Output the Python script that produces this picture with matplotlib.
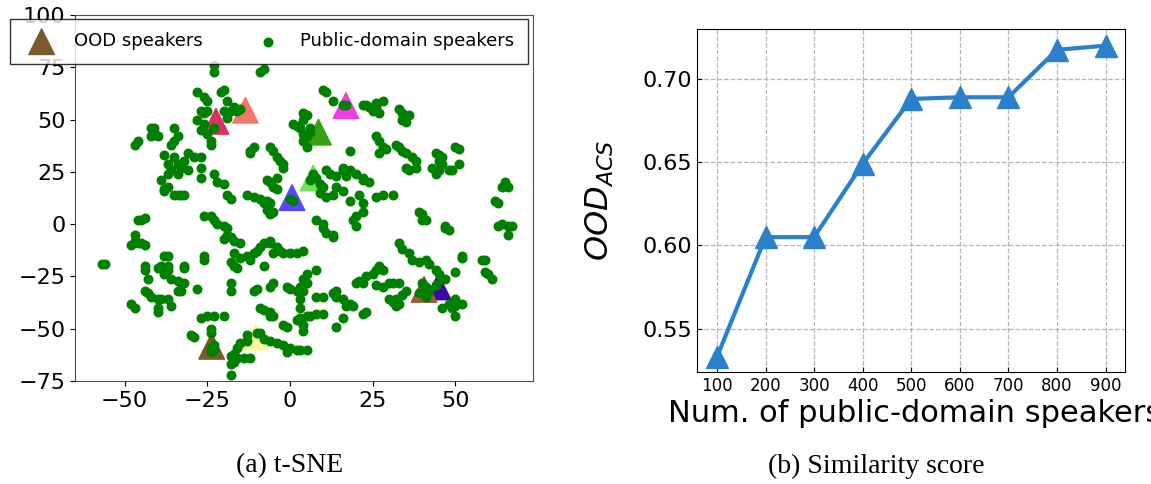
import matplotlib.pyplot as plt

# (a) t-SNE: OOD speakers (triangles)
ood_x = [-23.7, 44.8, 40.5, -22.4, -13.5, 16.9, 8.6, 7.0, 0.6, -10.4]
ood_y = [-58.4, -30.0, -31.2, 49.2, 54.5, 56.7, 44.0, 22.1, 12.7, -54.0]
ood_colors = ['#7b5a2e', '#3a0aa8', '#9a5e38', '#dc2f63', '#f2786c',
              '#f03ce6', '#35a012', '#72e255', '#5646ff', '#f6f7a0']

# public-domain speakers (dots)
pub_pts = [
    (-47, 38), (-46, 40), (-42, 46), (-41, 46), (-41, 44), (-42, 42), (-40, 42), (-36, 38), (-35, 46),
    (-34, 42), (-35, 40), (-38, 33), (-37, 29), (-35, 32), (-34, 29), (-33, 27), (-32, 30), (-31, 26),
    (-36, 26), (-37, 24), (-34, 24), (-31, 34), (-29, 32), (-27, 32), (-27, 27), (-27, 22), (-23, 24),
    (-22, 20), (-20, 19), (-39, 21), (-38, 17), (-37, 18), (-35, 14), (-33, 14),
    (-28, 63), (-26, 61), (-25, 59), (-27, 54), (-26, 53), (-28, 50), (-26, 48), (-27, 45), (-25, 43),
    (-24, 40), (-24, 38), (-23, 46), (-25, 54), (-23, 76), (-23, 73), (-21, 63), (-20, 64), (-19, 59),
    (-20, 54), (-19, 51), (-18, 54), (-17, 56), (-9, 73), (-8, 74), (-16, 54), (-15, 55),
    (-12, 35), (-12, 34), (-11, 37), (-6, 37), (-5, 35), (-4, 32), (-3, 30), (-2, 29), (-2, 27),
    (-7, 21), (-6, 20), (-4, 22), (-5, 18), (-4, 17),
    (1, 48), (2, 47), (4, 53), (5, 52), (4, 50), (3, 46), (4, 43), (4, 40), (5, 37), (6, 44), (6, 46), (5, 42),
    (10, 64), (11, 63), (13, 59), (16, 57), (17, 57), (18, 35), (16, 27), (16, 26), (17, 23), (18, 26),
    (20, 24), (22, 22), (22, 21), (24, 20),
    (22, 57), (23, 57), (24, 56), (26, 58), (28, 59), (26, 56), (25, 54), (27, 53),
    (33, 55), (34, 53), (36, 52), (34, 50), (35, 49),
    (26, 42), (27, 40), (28, 37), (27, 34), (29, 36), (32, 38), (33, 37), (34, 35), (35, 34), (37, 32),
    (38, 30), (38, 27), (35, 27), (36, 26),
    (44, 34), (45, 33), (46, 32), (45, 30), (46, 29), (43, 27), (45, 26), (44, 24), (48, 26), (49, 26),
    (51, 29), (50, 37), (51, 36),
    (65, 20), (66, 18), (64, 18),
    (7, 24), (8, 22), (6, 21), (9, 19), (10, 18), (11, 26), (12, 24), (14, 23), (14, 18), (16, 16),
    (-38, 16), (-34, 14), (-32, 14), (-19, 14), (-18, 12), (-13, 14), (-11, 13), (-9, 12), (-7, 11),
    (-6, 10), (9, 15), (11, 13), (13, 14), (18, 11), (21, 14), (26, 13), (28, 14), (31, 14), (62, 11), (63, 10),
    (-26, 4), (-24, 4), (-23, 2), (-22, 0), (-20, -1), (-19, -2), (-19, -5), (-18, -6), (-20, -7),
    (-17, -8), (-15, -9),
    (-8, 10), (-7, 7), (-6, 5), (-5, 6),
    (-46, 2), (-45, 2), (-44, 3), (-47, -5), (-47, -8), (-46, -9), (-45, -9), (-44, -10), (-48, -10),
    (-57, -19), (-56, -19),
    (-44, -20), (-44, -22), (-43, -26), (-40, -21), (-39, -20), (-37, -22), (-38, -24), (-37, -20),
    (-38, -15), (-37, -15),
    (-36, -26), (-34, -27), (-33, -28), (-32, -28), (-34, -32), (-33, -32), (-32, -20), (-32, -21),
    (-44, -32), (-43, -33), (-42, -35), (-40, -36), (-39, -36), (-37, -36), (-36, -39), (-40, -40),
    (-40, -42), (-48, -38), (-47, -40),
    (-28, -31), (-26, -15), (-26, -17), (-18, -28), (-18, -32),
    (-17, -14), (-18, -18), (-17, -20), (-16, -21), (-15, -16), (-13, -15), (-12, -17), (-11, -14),
    (-10, -13), (-9, -11), (-8, -9), (-6, -8), (-6, -9), (-8, -20),
    (-5, -14), (-3, -13), (-2, -14), (0, -14), (2, -14), (4, -13), (-4, -11),
    (8, -22), (5, -24), (4, -26), (5, -28),
    (-11, -32), (-10, -31), (-5, -28), (-6, -30),
    (-1, -30), (0, -31), (2, -32), (3, -30), (4, -32), (3, -36), (3, -40),
    (-9, -40), (-8, -41), (-6, -42), (-5, -44), (-6, -44), (-2, -48), (-1, -49),
    (2, -46), (3, -45), (5, -44), (6, -44), (8, -43), (10, -43), (4, -48), (4, -51),
    (8, -35), (10, -35), (13, -33), (14, -32), (14, -35), (16, -36), (17, -39), (18, -38), (19, -39),
    (16, -45), (14, -49),
    (20, -28), (21, -27), (22, -28), (22, -43), (23, -42), (23, -25), (25, -24), (26, -22), (27, -20),
    (28, -22), (26, -29), (28, -30),
    (30, -28), (31, -28), (33, -28), (30, -36), (31, -37), (32, -36), (34, -34), (35, -32), (33, -38), (32, -39),
    (33, -9), (34, -12), (36, -14), (37, -17), (39, 6), (40, 5), (40, 2), (41, 2), (47, -2), (47, -1), (48, -3),
    (39, -18), (41, -17), (42, -19), (44, -22), (45, -24), (46, -26), (47, -26),
    (40, -28), (41, -30), (39, -33), (41, -35), (42, -32), (44, -29),
    (48, -38), (49, -40), (46, -40), (50, -36), (52, -38), (50, -39), (50, -23), (50, -44),
    (52, -15), (52, -16), (58, -17), (59, -17), (59, -23), (60, -24), (61, -26),
    (63, -1), (64, 0), (66, -1), (67, -1), (66, -5),
    (-27, -45), (-25, -44), (-23, -44), (-20, -44), (-30, -53), (-29, -54), (-24, -50), (-24, -52),
    (-23, -58), (-23, -60), (-24, -61), (-24, -59),
    (-18, -63), (-17, -62), (-18, -67), (-17, -66), (-18, -72), (-16, -59), (-15, -57), (-13, -56),
    (-12, -64), (-13, -53),
    (-10, -52), (-9, -52), (-8, -55), (-6, -56), (-4, -57), (-2, -58), (0, -59), (2, -60), (3, -60),
    (5, -60), (-1, -61), (-16, -64), (-14, -64),
    (8, 2), (10, 0), (10, -2), (11, -4), (13, -5), (13, -6), (22, 10), (22, 6), (20, 4), (19, 2),
    (20, -1), (0, 12), (1, 11),
]
pub_x = [p[0] for p in pub_pts]
pub_y = [p[1] for p in pub_pts]

# (b) similarity score
num_speakers = [100, 200, 300, 400, 500, 600, 700, 800, 900]
ood_acs = [0.533, 0.605, 0.605, 0.649, 0.688, 0.689, 0.689, 0.7175, 0.720]


fig = plt.figure(figsize=(11.51, 4.84), dpi=100)

ax1 = fig.add_axes([0.0652, 0.2128, 0.398, 0.756])
ax1.scatter(ood_x, ood_y, s=340, marker='^', c=ood_colors,
            label='OOD speakers', zorder=2)
ax1.scatter(pub_x, pub_y, s=38, c='green',
            label='Public-domain speakers', zorder=3)
ax1.set_xlim(-65, 73.5)
ax1.set_ylim(-75, 100)
ax1.set_xticks([-50, -25, 0, 25, 50])
ax1.set_yticks([-75, -50, -25, 0, 25, 50, 75, 100])
ax1.tick_params(labelsize=16)
for sp in ax1.spines.values():
    sp.set_color('0.3')
ax1.legend(loc='upper left', bbox_to_anchor=(0.0087, 0.961),
           bbox_transform=fig.transFigure, ncol=2, fontsize=13,
           fancybox=False, edgecolor='black', borderaxespad=0,
           borderpad=0.75, columnspacing=2.6)

ax2 = fig.add_axes([0.6056, 0.2314, 0.3718, 0.7087])
ax2.plot(num_speakers, ood_acs, color='#2b80cb', lw=3,
         marker='^', markersize=16, zorder=3)
ax2.set_xlim(59, 940)
ax2.set_ylim(0.524, 0.730)
ax2.set_xticks(num_speakers)
ax2.set_yticks([0.55, 0.60, 0.65, 0.70])
ax2.yaxis.set_major_formatter('{x:.2f}')
ax2.grid(True, linestyle='--', color='#b5b5b5', lw=0.9)
ax2.tick_params(direction='in')
ax2.tick_params(axis='x', labelsize=12)
ax2.tick_params(axis='y', labelsize=16)
ax2.set_xlabel('Num. of public-domain speakers', fontsize=22,
               ha='left', va='center')
ax2.xaxis.set_label_coords(-0.068, -0.12)
ax2.set_ylabel('$OOD_{ACS}$', fontsize=23)
ax2.yaxis.set_label_coords(-0.19, 0.5)

fig.text(290 / 1151, 1 - 466 / 484, '(a) t-SNE', ha='center', va='center',
         family='Liberation Serif', fontsize=20)
fig.text(876 / 1151, 1 - 466 / 484, '(b) Similarity score', ha='center',
         va='center', family='Liberation Serif', fontsize=20)

fig.savefig('out.png', dpi=100)
